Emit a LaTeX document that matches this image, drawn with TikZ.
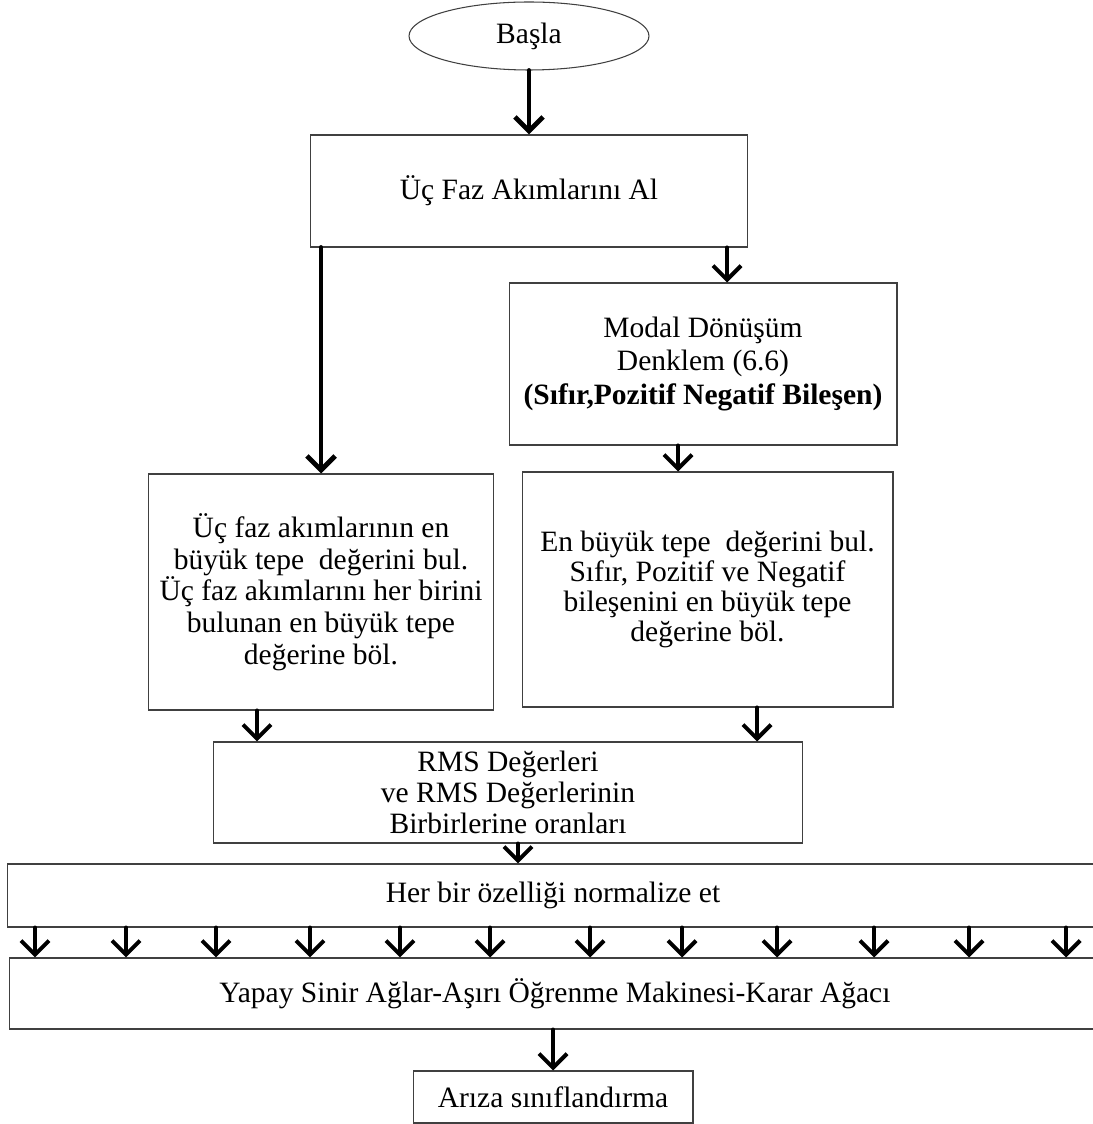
\documentclass[tikz,border=0pt]{standalone}
\usepackage{fontspec}
\setmainfont{Liberation Serif}
\usetikzlibrary{shapes.geometric,arrows.meta}

\begin{document}
\begin{tikzpicture}[x=0.02cm,y=-0.02cm]
	 \tikzstyle{box}=[draw=black!75,line width=0.6pt,align=center,inner sep=0pt,font=\fontsize{16.8}{17.8}\selectfont]
	 \tikzstyle{terminal}=[box,ellipse]
	 \tikzstyle{arr}=[draw,black,line width=2.3pt,line cap=round,-{Straight Barb[length=8pt,width=16pt]}]
	 \tikzstyle{long arr}=[arr,line width=2.8pt]

	 \path[use as bounding box,fill=white] (0,0) rectangle (1092,1124);

	 \node[terminal,minimum width=4.8cm,minimum height=1.36cm] (basla) at (529,36) {Başla};
	 \node[box,minimum width=8.76cm,minimum height=2.24cm] (al) at (529,191) {Üç Faz Akımlarını Al};
	 \node[box,minimum width=7.76cm,minimum height=3.24cm,font=\fontsize{16.8}{19.3}\selectfont] (modal) at (703,364)
		{Modal Dönüşüm\\Denklem (6.6)\\\textbf{(Sıfır,Pozitif Negatif Bileşen)}};
	 \node[box,minimum width=6.9cm,minimum height=4.72cm,font=\fontsize{16.8}{18}\selectfont] (tepe) at (321,592)
		{Üç faz akımlarının en\\büyük tepe\ \ değerini bul.\\Üç faz akımlarını her birini\\bulunan en büyük tepe\\değerine böl.};
	 \node[box,minimum width=7.42cm,minimum height=4.7cm,font=\fontsize{16.8}{17}\selectfont] (bilesen) at (707.5,589.5)
		{En büyük tepe\ \ değerini bul.\\Sıfır, Pozitif ve Negatif\\bileşenini en büyük tepe\\değerine böl.};
	 \node[box,minimum width=11.8cm,minimum height=2.02cm] (rms) at (508,792.5)
		{RMS Değerleri\\ve RMS Değerlerinin\\Birbirlerine oranları};
	 \node[box,minimum width=21.84cm,minimum height=1.26cm] (norm) at (553,895.5) {Her bir özelliği normalize et};
	 \node[box,minimum width=21.84cm,minimum height=1.42cm] (yapay) at (555,993.5)
		{Yapay Sinir Ağlar-Aşırı Öğrenme Makinesi-Karar Ağacı};
	 \node[box,minimum width=5.6cm,minimum height=1.04cm] (ariza) at (553,1097) {Arıza sınıflandırma};

	 % connectors
	 \draw[long arr] (basla) -- (al);
	 \draw[long arr] (al.south -| tepe.north) -- (tepe.north);
	 \draw[arr] (al.south -| 727,0) -- (modal.north -| 727,0);
	 \draw[arr] (modal.south -| 678,0) -- (bilesen.north -| 678,0);
	 \draw[arr] (tepe.south -| 257,0) -- (rms.north -| 257,0);
	 \draw[arr] (bilesen.south -| 757,0) -- (rms.north -| 757,0);
	 \draw[arr] (rms.south -| 518,0) -- (norm.north -| 518,0);
	 \foreach \x in {35,126,216,310,400,490,590,682,777,874,969,1066}
		\draw[arr] (norm.south -| \x,0) -- (yapay.north -| \x,0);
	 \draw[arr] (yapay.south -| ariza.north) -- (ariza.north);
\end{tikzpicture}
\end{document}
